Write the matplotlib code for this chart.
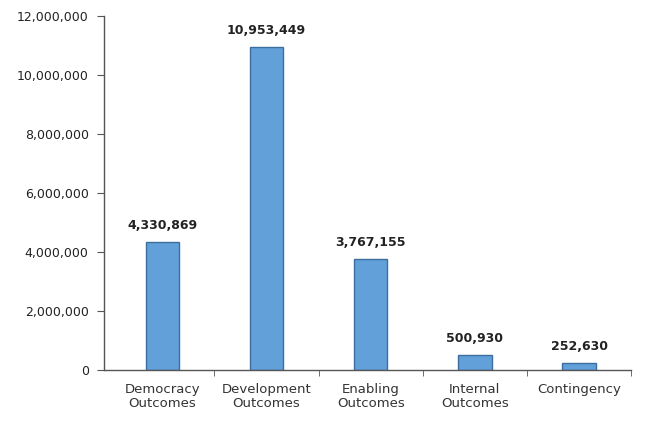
import matplotlib.pyplot as plt
from matplotlib.ticker import FuncFormatter

# chart data
categories = ['Democracy\nOutcomes', 'Development\nOutcomes', 'Enabling\nOutcomes',
              'Internal\nOutcomes', 'Contingency']
values = [4330869, 10953449, 3767155, 500930, 252630]
y_ticks = [0, 2000000, 4000000, 6000000, 8000000, 10000000, 12000000]

fig = plt.figure(figsize=(6.54, 4.30), dpi=100)
ax = fig.add_axes([0.159, 0.1395, 0.806, 0.8235])

x = range(len(categories))
ax.bar(x, values, width=0.32, color='#62A0DA', edgecolor='#3D6E9E', linewidth=1)

# value labels above each bar
for xi, v in zip(x, values):
    ax.text(xi, v + 330000, f'{v:,}', ha='center', va='bottom',
            fontsize=9, color='#222222', fontweight='bold')

ax.set_xlim(-0.56, len(categories) - 0.5)
ax.set_ylim(0, 12000000)
ax.set_yticks(y_ticks)
ax.yaxis.set_major_formatter(FuncFormatter(lambda v, p: f'{int(v):,}'))
ax.set_xticks(list(x))
ax.set_xticklabels(categories, fontsize=9.5, color='#333333', linespacing=1.15)
ax.set_xticks([i + 0.5 for i in range(len(categories))], minor=True)
ax.tick_params(axis='x', which='major', length=0, pad=9)
ax.tick_params(axis='x', which='minor', length=4, color='#555555', direction='out')
ax.tick_params(axis='y', labelsize=9, labelcolor='#222222', length=5,
               color='#555555', pad=6)

for side in ['top', 'right']:
    ax.spines[side].set_visible(False)
for side in ['left', 'bottom']:
    ax.spines[side].set_color('#555555')
    ax.spines[side].set_linewidth(1)

fig.savefig('out.png', dpi=100)
